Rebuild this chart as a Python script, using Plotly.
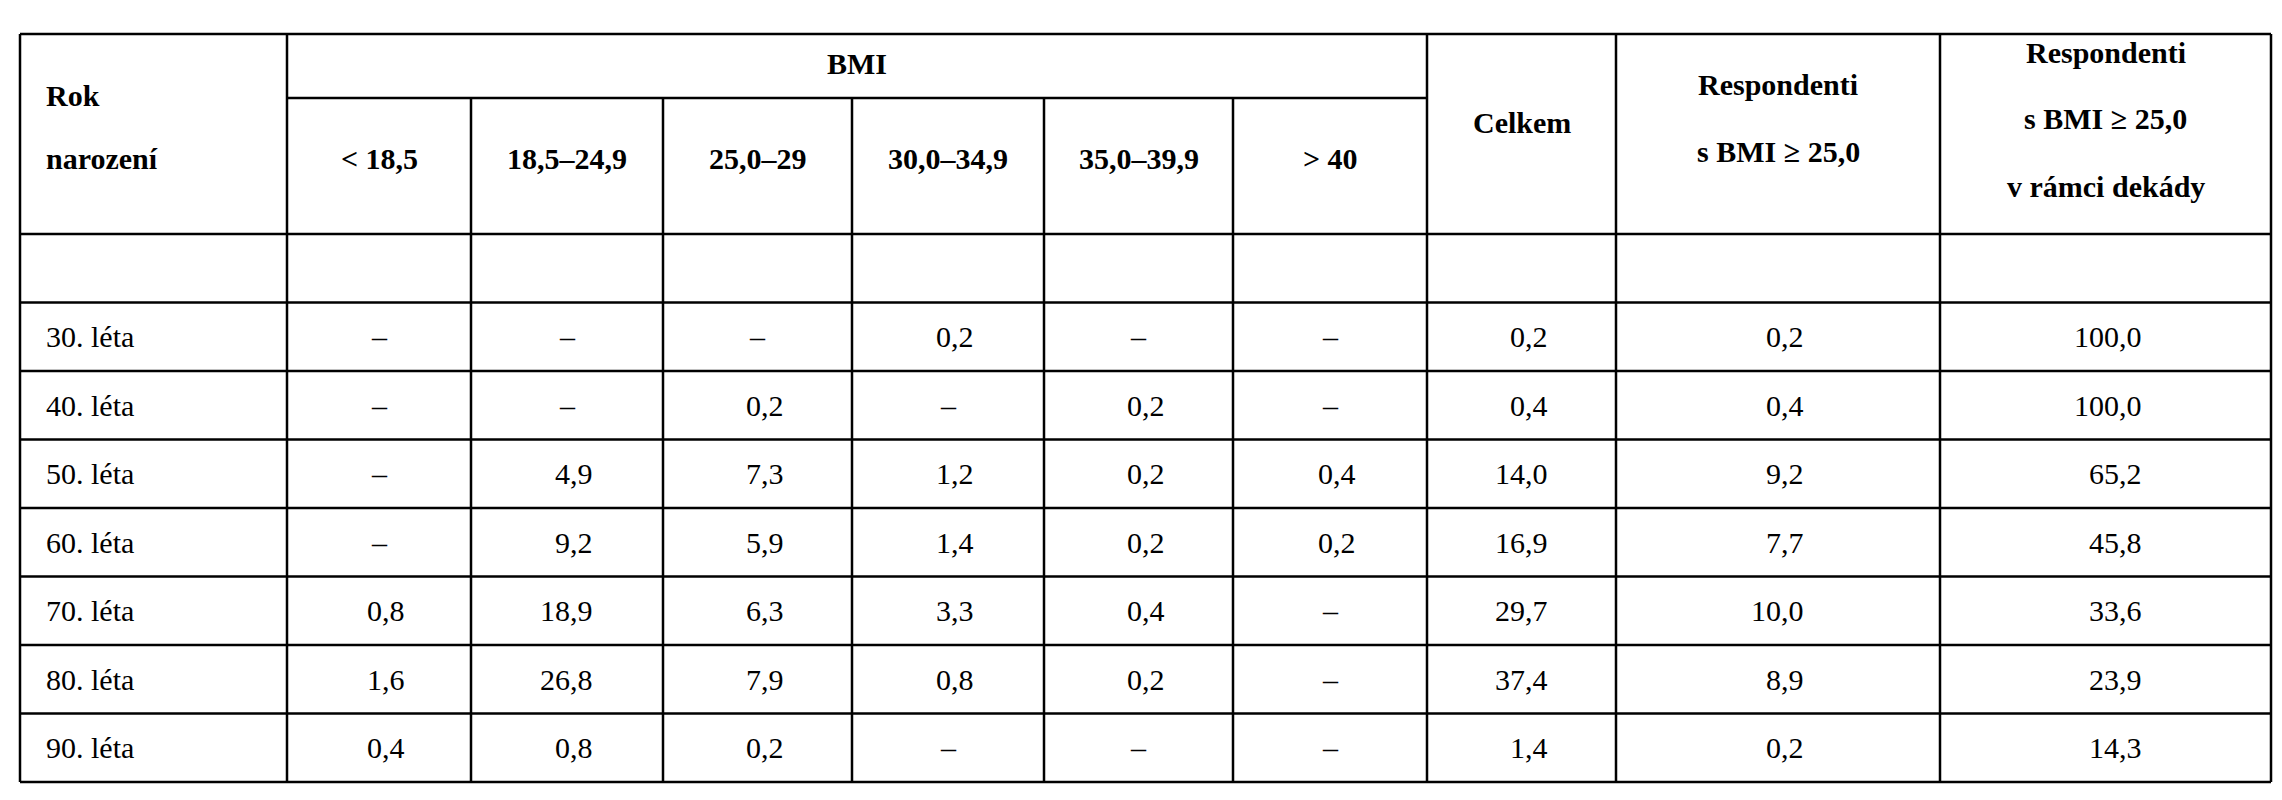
import plotly.graph_objects as go

# data
decades = ["30. léta", "40. léta", "50. léta", "60. léta", "70. léta", "80. léta", "90. léta"]
bmi_groups = ["< 18,5", "18,5–24,9", "25,0–29", "30,0–34,9", "35,0–39,9", "> 40"]
bmi_values = [
    ["–", "–", "–", "0,2", "–", "–"],
    ["–", "–", "0,2", "–", "0,2", "–"],
    ["–", "4,9", "7,3", "1,2", "0,2", "0,4"],
    ["–", "9,2", "5,9", "1,4", "0,2", "0,2"],
    ["0,8", "18,9", "6,3", "3,3", "0,4", "–"],
    ["1,6", "26,8", "7,9", "0,8", "0,2", "–"],
    ["0,4", "0,8", "0,2", "–", "–", "–"],
]
celkem = ["0,2", "0,4", "14,0", "16,9", "29,7", "37,4", "1,4"]
resp_25 = ["0,2", "0,4", "9,2", "7,7", "10,0", "8,9", "0,2"]
resp_dekada = ["100,0", "100,0", "65,2", "45,8", "33,6", "23,9", "14,3"]

# geometry (pixels)
W, H = 2282, 800
col_x = [12, 279, 463, 655, 844, 1036, 1225, 1419, 1608, 1932, 2263]
top, bmi_line, head_bottom, row_h = 26, 90, 226, 68.5
n_rows = len(decades) + 1
bottom = head_bottom + n_rows * row_h
FONT = "Liberation Serif, Times New Roman, DejaVu Serif, serif"
FS = 30

fig = go.Figure()
shapes = []
ann = []


def line(x0, y0, x1, y1):
    shapes.append(dict(type="line", x0=x0, y0=y0, x1=x1, y1=y1,
                       line=dict(color="black", width=2.5)))


def text(x, y, s, bold=False, anchor="center"):
    if bold:
        s = "<b>" + s + "</b>"
    ann.append(dict(x=x, y=y, text=s, showarrow=False, xanchor=anchor, yanchor="middle",
                    font=dict(family=FONT, size=FS, color="black")))


# horizontal lines
line(col_x[0], top, col_x[-1], top)
line(col_x[1], bmi_line, col_x[7], bmi_line)
for i in range(n_rows + 1):
    y = head_bottom + i * row_h
    line(col_x[0], y, col_x[-1], y)
# vertical lines
for i, x in enumerate(col_x):
    y0 = bmi_line if 2 <= i <= 6 else top
    line(x, y0, x, bottom)

# header text
text(col_x[0] + 24, 87, "Rok", True, "left")
text(col_x[0] + 24, 150, "narození", True, "left")
text((col_x[1] + col_x[7]) / 2, 55, "BMI", True)
for j, g in enumerate(bmi_groups):
    text((col_x[j + 1] + col_x[j + 2]) / 2, 150, g, True)
text((col_x[7] + col_x[8]) / 2, 114, "Celkem", True)
text((col_x[8] + col_x[9]) / 2, 76, "Respondenti", True)
text((col_x[8] + col_x[9]) / 2, 143, "s BMI ≥ 25,0", True)
text((col_x[9] + col_x[10]) / 2, 44, "Respondenti", True)
text((col_x[9] + col_x[10]) / 2, 110, "s BMI ≥ 25,0", True)
text((col_x[9] + col_x[10]) / 2, 178, "v rámci dekády", True)

# body
for r, dec in enumerate(decades):
    yc = head_bottom + (r + 1.5) * row_h
    text(col_x[0] + 24, yc, dec, anchor="left")
    cells = bmi_values[r] + [celkem[r], resp_25[r], resp_dekada[r]]
    for j, v in enumerate(cells):
        cx = (col_x[j + 1] + col_x[j + 2]) / 2
        if v == "–":
            text(cx, yc, v)
        else:
            off = 38 if j == 8 else 28
            text(cx + off, yc, v, anchor="right")

fig.update_layout(
    width=W, height=H, margin=dict(l=0, r=0, t=0, b=0),
    paper_bgcolor="white", plot_bgcolor="white",
    xaxis=dict(range=[0, W], visible=False, fixedrange=True),
    yaxis=dict(range=[H, 0], visible=False, fixedrange=True),
    shapes=shapes, annotations=ann, showlegend=False,
)
fig.write_html("out.html")
